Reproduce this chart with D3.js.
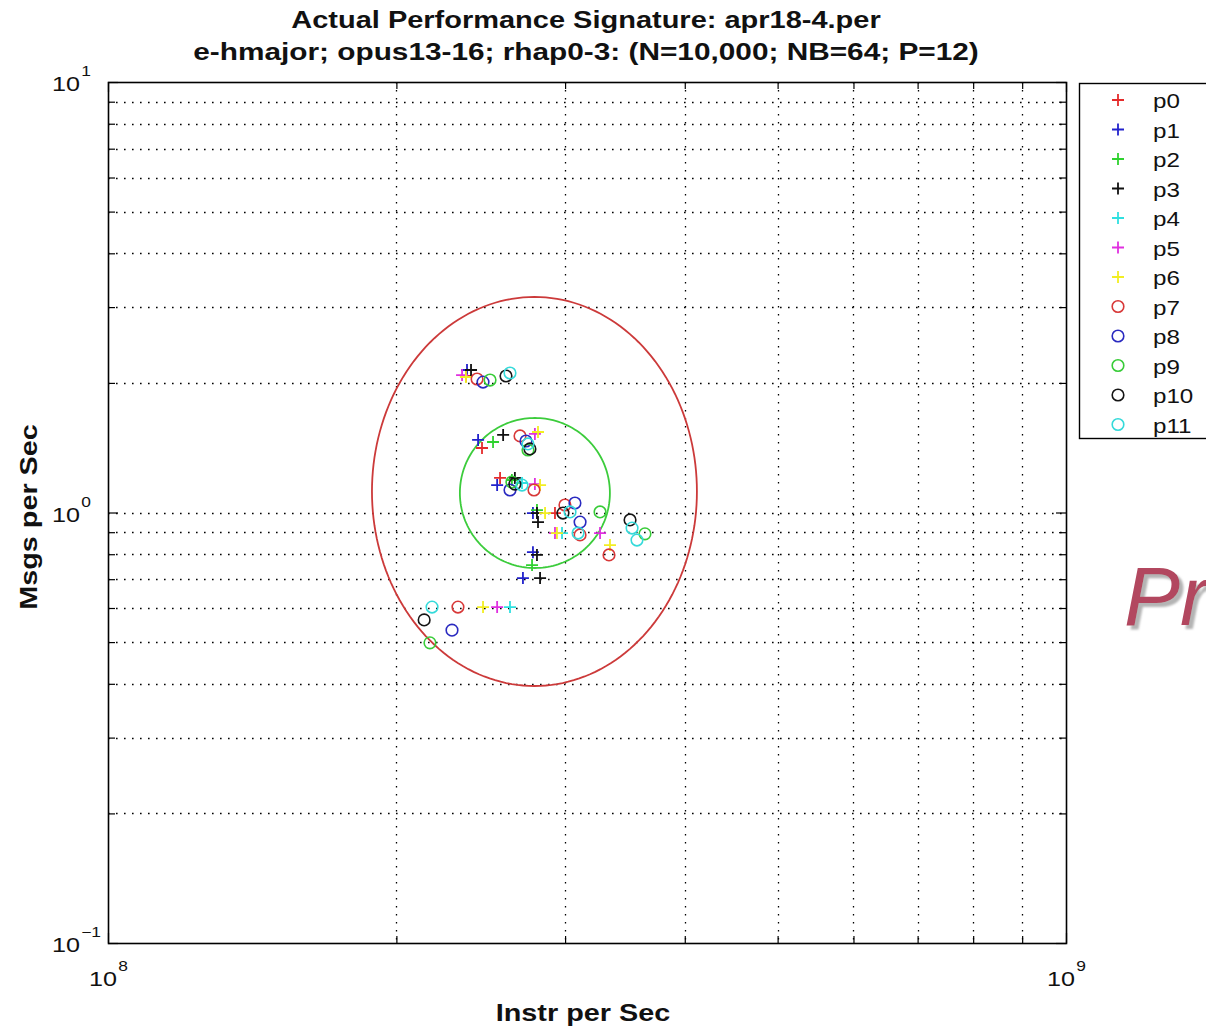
<!DOCTYPE html>
<html>
<head>
<meta charset="utf-8">
<script src="https://cdn.jsdelivr.net/npm/d3@7"></script>
<style>
  html, body { margin: 0; padding: 0; background: #fff; overflow: hidden; }
  svg text { font-family: "Liberation Sans", Arial, Helvetica, sans-serif; }
</style>
</head>
<body>
<svg id="chart" width="1206" height="1028">
  <defs>
    <filter id="shadow" x="-10%" y="-10%" width="130%" height="130%">
      <feDropShadow dx="4" dy="4" stdDeviation="0.8" flood-color="#b4b4b4" flood-opacity="1"/>
    </filter>
  </defs>
</svg>
<script>
// Per-process measurements: [instructions per second, messages per second]
const series = ["p0","p1","p2","p3","p4","p5","p6","p7","p8","p9","p10","p11"];
const markers = ["+","+","+","+","+","+","+","o","o","o","o","o"];
const colors = ["#e52b2b","#2222cc","#2fd22f","#111111","#2fe0e0","#e030e0","#f2ee22",
                "#d83838","#2a2ac0","#38cc38","#151515","#35dada"];

const p0  = [[2.364e8,2.075],[2.457e8,1.412],[2.566e8,1.203],[2.928e8,0.997]];
const p1  = [[2.370e8,2.143],[2.434e8,1.474],[2.548e8,1.158],[2.777e8,0.997],[2.777e8,0.809],[2.711e8,0.704]];
const p2  = [[2.523e8,1.458],[2.640e8,1.190],[2.804e8,1.013],[2.771e8,0.755]];
const p3  = [[2.393e8,2.143],[2.585e8,1.514],[2.659e8,1.203],[2.804e8,0.997],[2.811e8,0.950],[2.804e8,0.797],[2.825e8,0.704]];
const p4  = [[2.705e8,1.171],[2.978e8,0.896],[2.628e8,0.603]];
const p5  = [[2.342e8,2.086],[2.790e8,1.522],[2.790e8,1.164],[2.928e8,0.896],[3.263e8,0.896],[2.548e8,0.603]];
const p6  = [[2.364e8,2.064],[2.811e8,1.538],[2.825e8,1.158],[2.859e8,0.997],[2.942e8,0.896],[3.342e8,0.840],[2.463e8,0.603]];
const p7  = [[2.428e8,2.042],[2.692e8,1.506],[2.784e8,1.128],[2.999e8,1.041],[3.110e8,0.887],[3.334e8,0.797],[2.319e8,0.603]];
const p8  = [[2.463e8,2.009],[2.731e8,1.466],[2.628e8,1.128],[3.072e8,1.052],[3.110e8,0.950],[2.286e8,0.533]];
const p9  = [[2.505e8,2.031],[2.744e8,1.397],[2.640e8,1.177],[3.263e8,1.003],[3.635e8,0.892],[2.168e8,0.498]];
const p10 = [[2.603e8,2.075],[2.757e8,1.405],[2.659e8,1.164],[2.985e8,0.997],[3.507e8,0.961],[2.138e8,0.563]];
const p11 = [[2.628e8,2.109],[2.744e8,1.443],[2.705e8,1.158],[3.036e8,1.003],[3.095e8,0.896],[3.524e8,0.920],[3.566e8,0.863],[2.179e8,0.603]];
const points = [p0,p1,p2,p3,p4,p5,p6,p7,p8,p9,p10,p11];

// Spread ellipses: centre (value units) and semi-axes (decades)
const ellipses = [
  {cx: 2.787e8, cy: 1.119, rx: 0.1696, ry: 0.4518, color: "#cc3a3a"},
  {cx: 2.790e8, cy: 1.110, rx: 0.0783, ry: 0.1742, color: "#3ccc3c"}
];

const titleLines = ["Actual Performance Signature: apr18-4.per",
                    "e-hmajor; opus13-16; rhap0-3: (N=10,000; NB=64; P=12)"];
const xLabel = "Instr per Sec";
const yLabel = "Msgs per Sec";
const xTicks = [1e8, 1e9];
const yTicks = [0.1, 1, 10];

const svg = d3.select("#chart");
const plotL = 108, plotR = 1066, plotT = 82, plotB = 943;

const x = d3.scaleLog().domain([1e8, 1e9]).range([plotL, plotR]);
const y = d3.scaleLog().domain([0.1, 10]).range([plotB, plotT]);

// widen text to the broad raster font of the original figure
function stretch(sel, factor) {
  sel.each(function () {
    const w = this.getComputedTextLength();
    d3.select(this).attr("textLength", w * factor).attr("lengthAdjust", "spacingAndGlyphs");
  });
}

// minor grid values
const xGrid = d3.range(2, 10).map(k => k * 1e8);
const yGrid = [].concat(d3.range(2, 10).map(k => k * 0.1), [1], d3.range(2, 10));

const grid = svg.append("g").attr("stroke", "#000").attr("stroke-width", 1.3)
  .attr("stroke-dasharray", "1.6,6.4");
grid.selectAll("line.vx").data(xGrid).join("line")
  .attr("x1", d => Math.round(x(d)) + 0.5).attr("x2", d => Math.round(x(d)) + 0.5)
  .attr("y1", plotT).attr("y2", plotB);
grid.selectAll("line.hy").data(yGrid).join("line")
  .attr("y1", d => Math.round(y(d)) + 0.5).attr("y2", d => Math.round(y(d)) + 0.5)
  .attr("x1", plotL).attr("x2", plotR);

// axes with inward ticks on all four sides
const fmtNone = () => "";
function tickAll(axisGen, scale, tvals, len) {
  return axisGen(scale).tickValues(tvals).tickSize(len).tickFormat(fmtNone);
}
const xMinor = xGrid, yMinor = d3.range(2, 10).map(k => k * 0.1).concat(d3.range(2, 10));
const axesG = svg.append("g").attr("class", "axes");
axesG.append("g").attr("transform", `translate(0,${plotB})`).call(tickAll(d3.axisTop, x, xMinor, 7));
axesG.append("g").attr("transform", `translate(0,${plotB})`).call(tickAll(d3.axisTop, x, xTicks, 10));
axesG.append("g").attr("transform", `translate(0,${plotT})`).call(tickAll(d3.axisBottom, x, xMinor, 7));
axesG.append("g").attr("transform", `translate(0,${plotT})`).call(tickAll(d3.axisBottom, x, xTicks, 10));
axesG.append("g").attr("transform", `translate(${plotL},0)`).call(tickAll(d3.axisRight, y, yMinor, 7));
axesG.append("g").attr("transform", `translate(${plotL},0)`).call(tickAll(d3.axisRight, y, yTicks, 10));
axesG.append("g").attr("transform", `translate(${plotR},0)`).call(tickAll(d3.axisLeft, y, yMinor, 7));
axesG.append("g").attr("transform", `translate(${plotR},0)`).call(tickAll(d3.axisLeft, y, yTicks, 10));
axesG.selectAll(".domain").remove();
axesG.selectAll("line").attr("stroke", "#000").attr("stroke-width", 1.2);

svg.append("rect").attr("x", plotL + 0.5).attr("y", plotT + 0.5)
  .attr("width", plotR - plotL).attr("height", plotB - plotT)
  .attr("fill", "none").attr("stroke", "#000").attr("stroke-width", 1.6);

// power-of-ten tick labels
function powLabel(g, exp, xPos, yPos) {
  const t = g.append("g").attr("transform", `translate(${xPos},${yPos}) scale(1.2,1)`)
    .append("text").attr("font-size", 21).attr("fill", "#111");
  t.append("tspan").text("10");
  t.append("tspan").attr("dx", 1).attr("dy", -15).attr("font-size", 14.5).text(exp);
}
const lbl = svg.append("g");
yTicks.forEach(v => {
  const e = Math.round(Math.log10(v));
  powLabel(lbl, e < 0 ? "\u22121" : String(e), 52, y(v) + 9);
});
xTicks.forEach(v => {
  const e = Math.round(Math.log10(v));
  powLabel(lbl, String(e), x(v) - 19, 986);
});

// ellipses drawn in log space
const ell = svg.append("g");
ellipses.forEach(e => {
  const ts = d3.range(0, 361, 2).map(a => a * Math.PI / 180);
  const pts = ts.map(t => [
    x(Math.pow(10, Math.log10(e.cx) + e.rx * Math.cos(t))),
    y(Math.pow(10, Math.log10(e.cy) + e.ry * Math.sin(t)))
  ]);
  ell.append("path").attr("d", d3.line()(pts)).attr("fill", "none")
    .attr("stroke", e.color).attr("stroke-width", 1.8);
});

// markers
function drawMarker(g, type, cx, cy, color) {
  if (type === "+") {
    g.append("path").attr("d", `M${cx - 6},${cy}H${cx + 6}M${cx},${cy - 6}V${cy + 6}`)
      .attr("stroke", color).attr("stroke-width", 1.8).attr("fill", "none");
  } else {
    g.append("circle").attr("cx", cx).attr("cy", cy).attr("r", 5.8)
      .attr("stroke", color).attr("stroke-width", 1.6).attr("fill", "none");
  }
}
const marks = svg.append("g");
points.forEach((arr, i) => {
  arr.forEach(d => drawMarker(marks, markers[i], x(d[0]), y(d[1]), colors[i]));
});

// title and axis labels
const titles = svg.append("g").selectAll("text").data(titleLines).join("text")
  .attr("x", 586).attr("y", (d, i) => 28 + i * 32).attr("text-anchor", "middle")
  .attr("font-size", 23).attr("font-weight", "bold").attr("fill", "#111").text(d => d);
titles.filter((d, i) => i === 0).call(stretch, 1.26);
titles.filter((d, i) => i === 1).call(stretch, 1.295);
const xl = svg.append("text").attr("x", 583).attr("y", 1021).attr("text-anchor", "middle")
  .attr("font-size", 24).attr("font-weight", "bold").attr("fill", "#111").text(xLabel);
stretch(xl, 1.2);
const yl = svg.append("text").attr("transform", "translate(37,517) rotate(-90)").attr("text-anchor", "middle")
  .attr("font-size", 24).attr("font-weight", "bold").attr("fill", "#111").text(yLabel);
stretch(yl, 1.2);

// legend
const leg = svg.append("g");
leg.append("rect").attr("x", 1079.5).attr("y", 83.5).attr("width", 140).attr("height", 355)
  .attr("fill", "#fff").attr("stroke", "#000").attr("stroke-width", 1.4);
series.forEach((s, i) => {
  const yy = 100 + i * 29.5;
  drawMarker(leg, markers[i], 1118, yy, colors[i]);
  const t = leg.append("text").attr("x", 1153).attr("y", yy + 8).attr("font-size", 21)
    .attr("fill", "#111").text(s);
  stretch(t, 1.15);
});

// slide heading fragment at the right edge
svg.append("text").attr("x", 1124).attr("y", 625)
  .attr("font-family", "'DejaVu Sans', sans-serif").attr("font-style", "italic")
  .attr("font-size", 84).attr("fill", "#b2475f").attr("filter", "url(#shadow)").text("Pr");
</script>
</body>
</html>
